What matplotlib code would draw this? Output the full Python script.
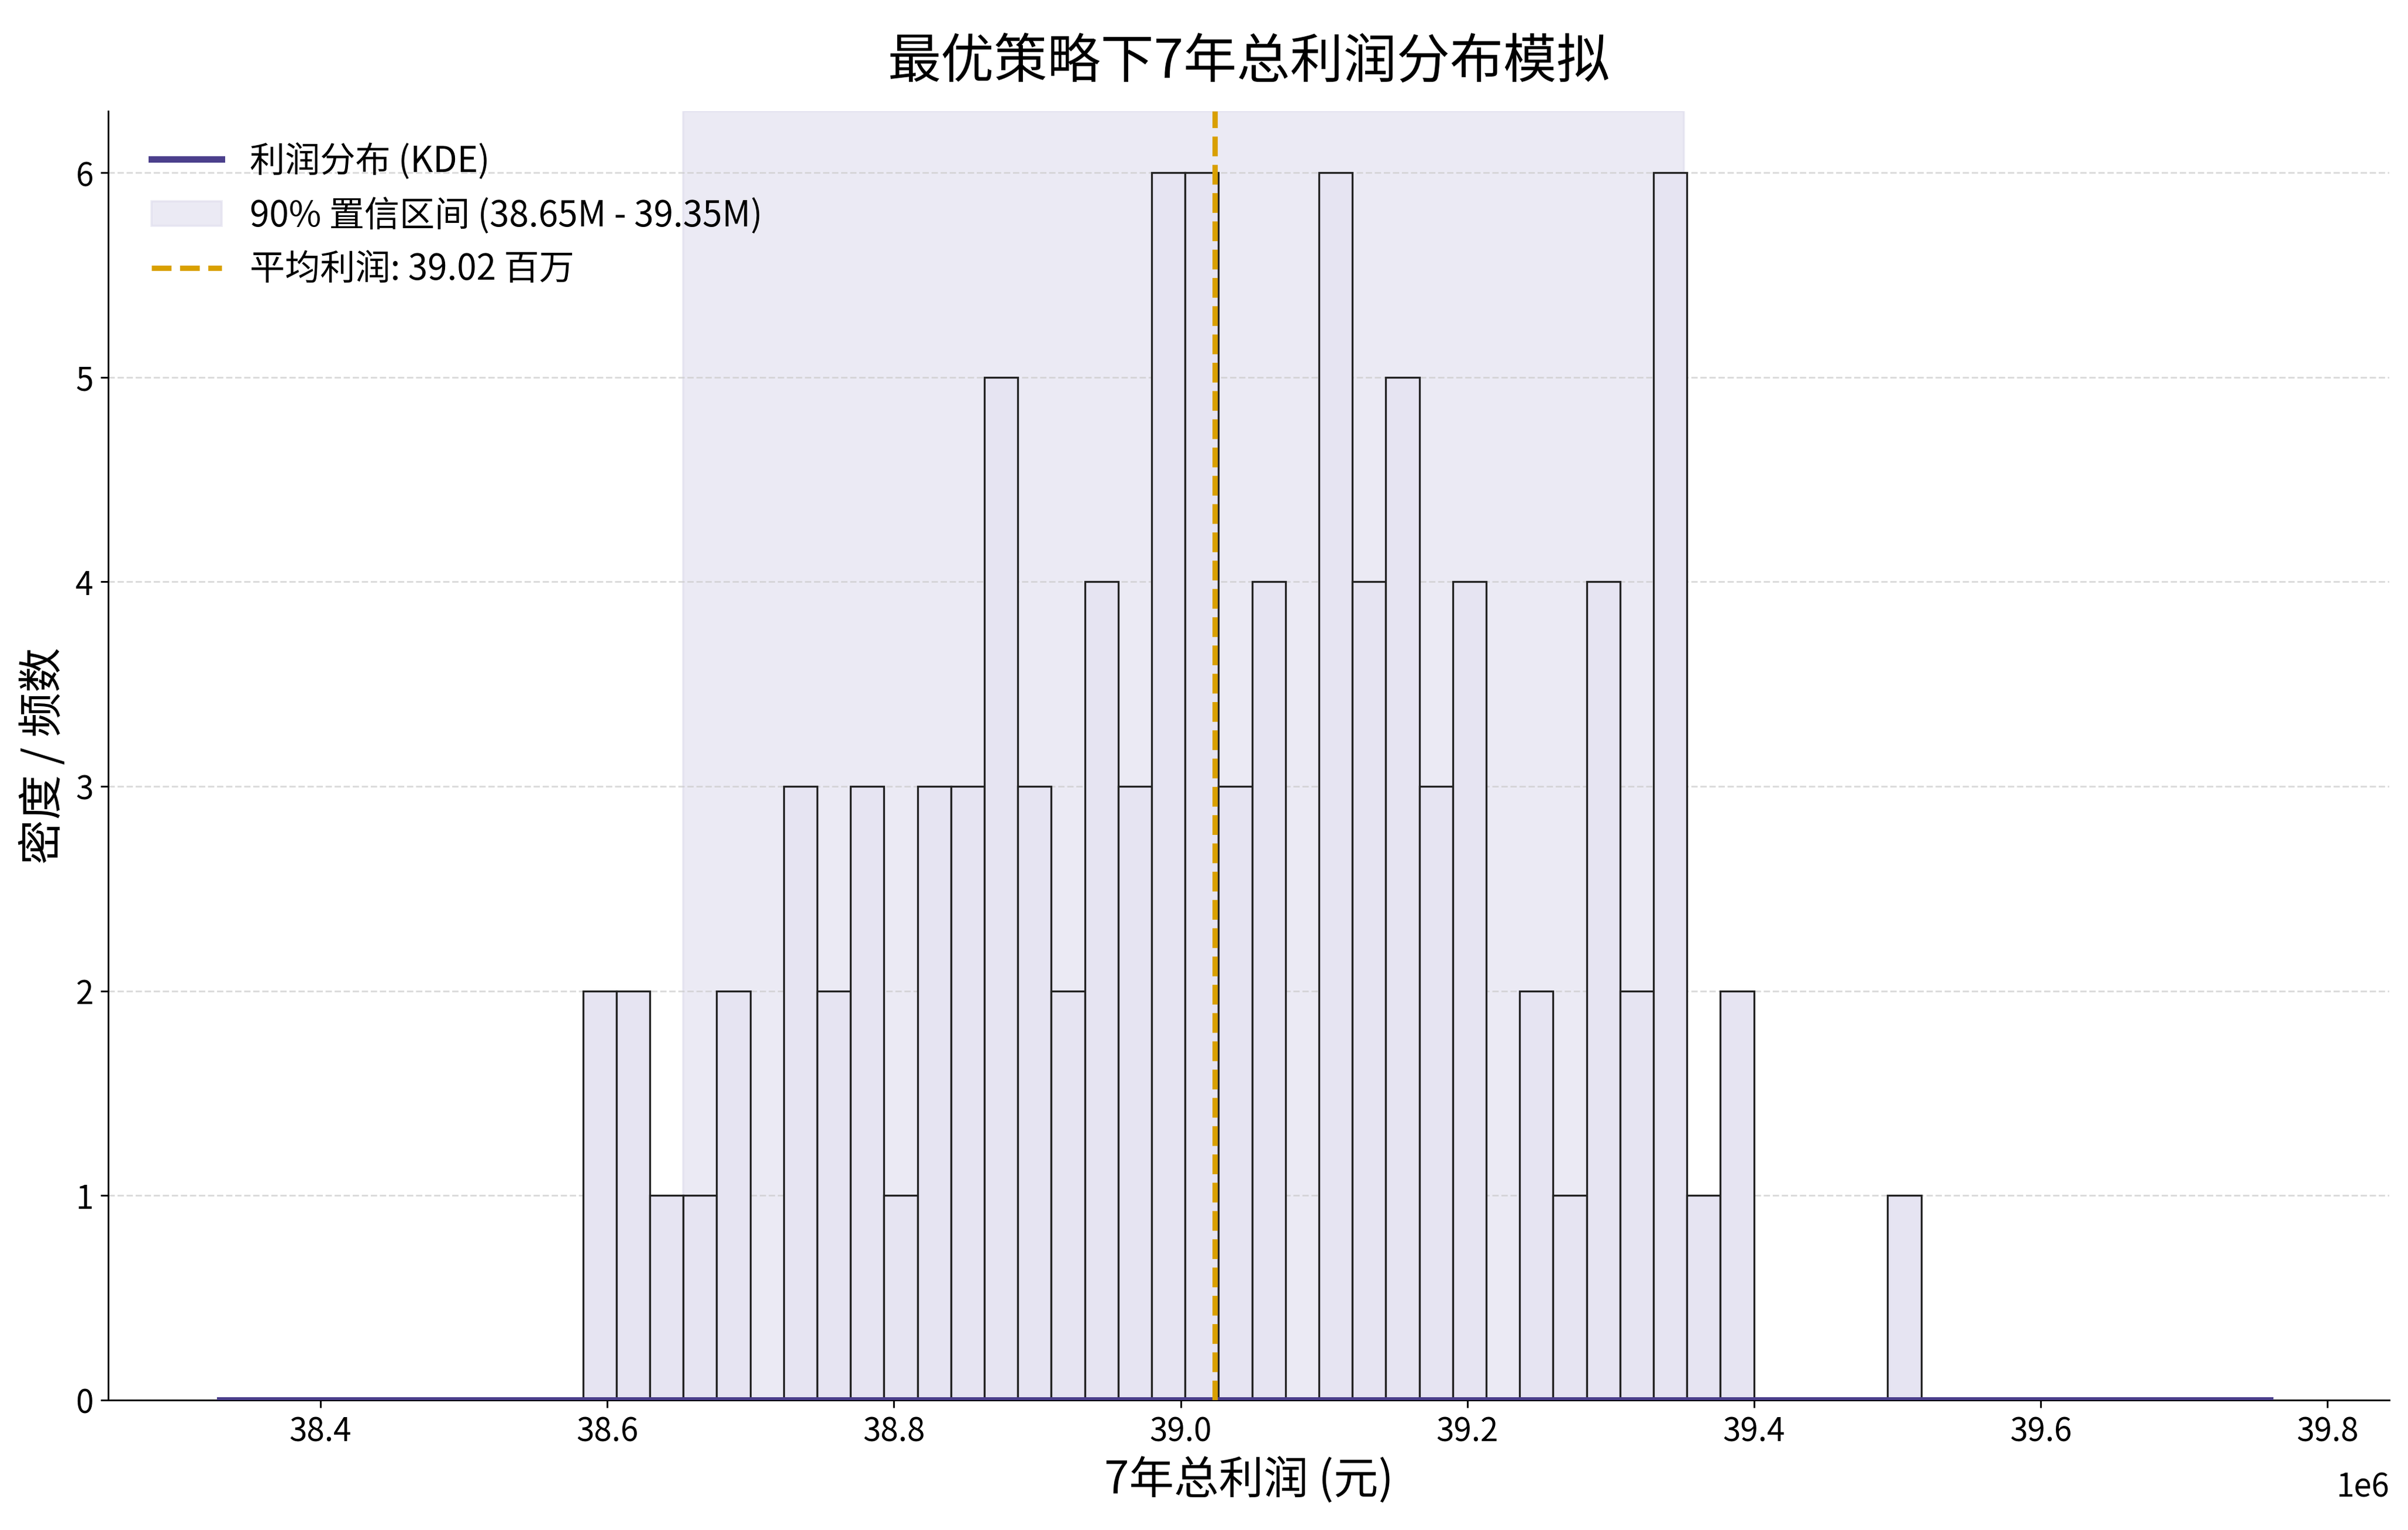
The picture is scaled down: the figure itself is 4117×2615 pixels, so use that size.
import matplotlib
matplotlib.use("Agg")
import matplotlib.pyplot as plt
from matplotlib.ticker import FuncFormatter
import numpy as np

plt.rcParams['font.family'] = ['Noto Sans CJK SC', 'DejaVu Sans']
plt.rcParams['axes.unicode_minus'] = False

# histogram (100 simulated runs)
BIN_START = 38.583e6
BIN_WIDTH = 0.02334e6
counts = [2, 2, 1, 1, 2, 0, 3, 2, 3, 1, 3, 3, 5, 3, 2, 4, 3, 6, 6, 3, 4, 0,
          6, 4, 5, 3, 4, 0, 2, 1, 4, 2, 6, 1, 2, 0, 0, 0, 0, 1]
ci_low = 38.653e6
ci_high = 39.351e6
mean_profit = 39.024e6
kde_range = (38.33e6, 39.76e6)

edges = BIN_START + BIN_WIDTH * np.arange(len(counts) + 1)
centers = (edges[:-1] + edges[1:]) / 2
samples = np.repeat(centers, counts)

fig = plt.figure(figsize=(15.68, 9.96), dpi=262.6)
ax = fig.add_axes([0.045, 0.085, 0.947, 0.842])

ax.axvspan(ci_low, ci_high, color='#dcdaeb', alpha=0.55, zorder=0,
           label=f"90% 置信区间 ({ci_low/1e6:.2f}M - {ci_high/1e6:.2f}M)")
ax.hist(centers, bins=edges, weights=counts, color='#e6e4f2', edgecolor='#222222',
        linewidth=0.9, zorder=2)

# KDE (in yuan units its density is ~1e-6, so it lies on the baseline)
xs = np.linspace(kde_range[0], kde_range[1], 400)
bw = 1.06 * samples.std() * len(samples) ** (-0.2)
kde = np.exp(-0.5 * ((xs[:, None] - samples[None, :]) / bw) ** 2).sum(axis=1)
kde /= len(samples) * bw * np.sqrt(2 * np.pi)
ax.plot(xs, kde, color='#4b3f8c', linewidth=3, zorder=3, label="利润分布 (KDE)")

ax.axvline(mean_profit, color='#d9a000', linestyle='--', linewidth=2.5, zorder=4,
           label=f"平均利润: {mean_profit/1e6:.2f} 百万")

ax.set_xlim(38.252e6, 39.843e6)
ax.set_ylim(0, 6.3)
ax.set_xticks(np.arange(38.4e6, 39.81e6, 0.2e6))
ax.xaxis.set_major_formatter(FuncFormatter(lambda v, p: f"{v/1e6:.1f}"))
ax.text(1.0, -0.055, "1e6", transform=ax.transAxes, ha='right', va='top', fontsize=15)
ax.set_yticks(range(7))
ax.tick_params(labelsize=15)
ax.grid(axis='y', linestyle='--', color='#cccccc', alpha=0.7)
ax.set_axisbelow(True)
for s in ['top', 'right']:
    ax.spines[s].set_visible(False)

ax.set_title("最优策略下7年总利润分布模拟", fontsize=25, pad=16)
ax.set_xlabel("7年总利润 (元)", fontsize=21)
ax.set_ylabel("密度 / 频数", fontsize=21)

h, l = ax.get_legend_handles_labels()
order = [l.index("利润分布 (KDE)"), 0, l.index(f"平均利润: {mean_profit/1e6:.2f} 百万")]
ax.legend([h[i] for i in order], [l[i] for i in order], loc='upper left',
          fontsize=16.5, frameon=False, bbox_to_anchor=(0.005, 1.0))

fig.savefig("out.png")
